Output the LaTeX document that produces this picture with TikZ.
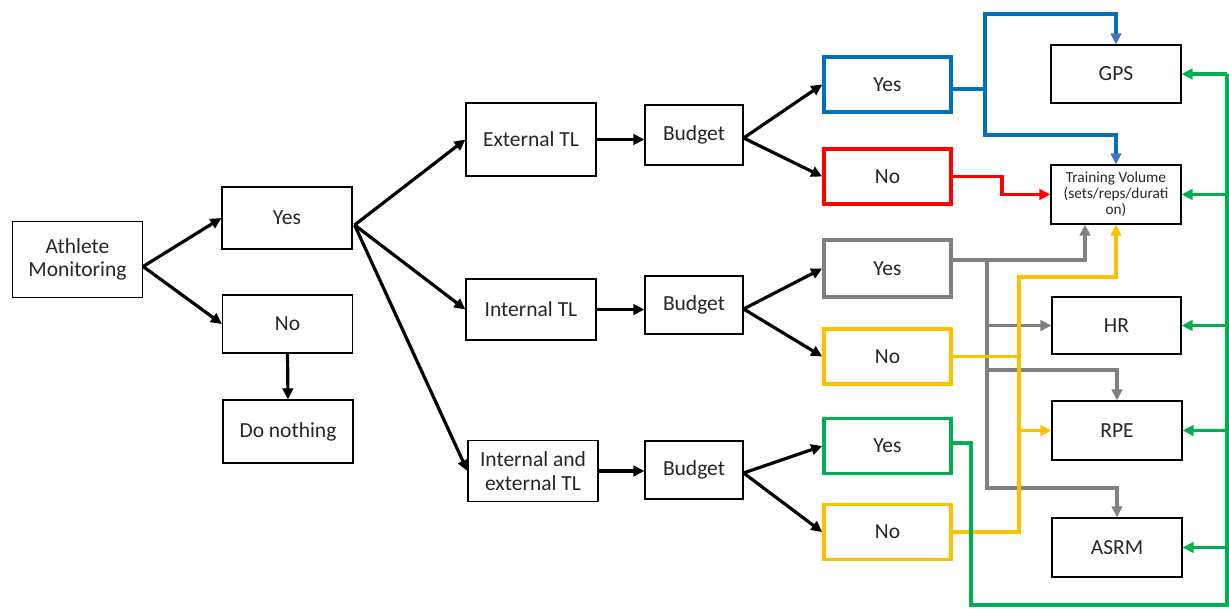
\documentclass[tikz,border=0pt]{standalone}
\usepackage{fontspec}
\setmainfont{Carlito}
\usetikzlibrary{arrows.meta,calc}
\definecolor{cblue}{HTML}{0070C0}
\definecolor{cbluetip}{HTML}{4472C4}
\definecolor{cred}{HTML}{FF0000}
\definecolor{cgray}{HTML}{808080}
\definecolor{cyel}{HTML}{FFC000}
\definecolor{cgreen}{HTML}{00B050}
\definecolor{ctext}{HTML}{262626}
\begin{document}
\begin{tikzpicture}[x=1pt,y=-1pt,
  box/.style={draw=black,line width=1.2pt,inner sep=2pt,align=center,
    text=ctext,font=\fontsize{21.5}{23.5}\selectfont},
  cbox/.style={box,line width=3.6pt,minimum width=127,minimum height=55},
  small/.style={font=\fontsize{15.3}{16}\selectfont},
  tip/.style={-{Triangle[length=11pt,width=10.5pt]}},
  arr/.style={line width=3.2pt,tip},
  cl/.style={line width=3.2pt},
  carr/.style={line width=3.2pt,tip}
]
\useasboundingbox (0,0) rectangle (1229,608);

% ---- nodes ----
\node[box,minimum width=130,minimum height=76] (am) at (77.5,259.5) {Athlete\\Monitoring};
\node[box,minimum width=130,minimum height=62] (yes1) at (287,218) {Yes};
\node[box,minimum width=130,minimum height=58] (no1) at (287.5,324) {No};
\node[box,minimum width=130,minimum height=63] (dn) at (288,431.5) {Do nothing};

\node[box,minimum width=130,minimum height=73] (ext) at (531,139.5) {External TL};
\node[box,minimum width=130,minimum height=61] (int) at (531,309.5) {Internal TL};
\node[box,minimum width=130,minimum height=61] (ie) at (533,471) {Internal and\\external TL};

\node[box,minimum width=98,minimum height=60] (b1) at (694,135) {Budget};
\node[box,minimum width=98,minimum height=58] (b2) at (694,305) {Budget};
\node[box,minimum width=98,minimum height=58] (b3) at (694,470) {Budget};

\node[cbox,draw=cblue] (yb) at (887.5,84.5) {Yes};
\node[cbox,draw=cred] (nr) at (887.5,176.5) {No};
\node[cbox,draw=cgray,minimum height=57] (yg) at (887.5,268.5) {Yes};
\node[cbox,draw=cyel] (ny) at (887.5,356.5) {No};
\node[cbox,draw=cgreen] (ygr) at (887.5,446) {Yes};
\node[cbox,draw=cyel] (ny2) at (887.5,532) {No};

\node[box,minimum width=130,minimum height=58] (gps) at (1116,74) {GPS};
\node[box,small,minimum width=130,minimum height=59] (tv) at (1116,194.5) {Training Volume\\(sets/reps/durati\\on)};
\node[box,minimum width=129,minimum height=57] (hr) at (1116.5,325.5) {HR};
\node[box,minimum width=130,minimum height=59] (rpe) at (1117,430.5) {RPE};
\node[box,minimum width=130,minimum height=59] (asrm) at (1117,547.5) {ASRM};

% ---- black arrows ----
\coordinate (as) at ($(am.east)+(0,7)$);
\draw[arr] (as) -- (yes1.west);
\draw[arr] (as) -- (no1.west);
\draw[arr] (no1.south) -- (dn.north);
\coordinate (ys) at ($(yes1.east)+(2,7)$);
\draw[arr] (ys) -- (ext.west);
\draw[arr] (ys) -- (int.west);
\draw[arr] (ys) -- (ie.west);
\draw[arr] (ext.east) -- (ext.east -| b1.west);
\draw[arr] (int.east) -- (int.east -| b2.west);
\draw[arr] (ie.east) -- (ie.east -| b3.west);
\coordinate (bs1) at ($(b1.east)+(0,3)$);
\draw[arr] (bs1) -- (yb.west);
\draw[arr] (bs1) -- (nr.west);
\coordinate (bs2) at ($(b2.east)+(0,4)$);
\draw[arr] (bs2) -- (yg.west);
\draw[arr] (bs2) -- (ny.west);
\coordinate (bs3) at ($(b3.east)+(0,3)$);
\draw[arr] (bs3) -- (ygr.west);
\draw[arr] (bs3) -- (ny2.west);

% ---- blue ----
\coordinate (bj) at (985,89);
\coordinate (bt) at (985,14);
\coordinate (bb) at (985,135);
\draw[cl,cblue] (yb.east |- bj) -- (bj);
\draw[cl,cblue,-{Triangle[length=11pt,width=10.5pt,color=cbluetip]}] (bj) -- (bt) -| (gps.north);
\draw[cl,cblue,-{Triangle[length=11pt,width=10.5pt,color=cbluetip]}] (bj) -- (bb) -| (tv.north);

% ---- red ----
\coordinate (rj) at (1002,185);
\draw[carr,cred] (nr.east) -| (rj) |- (tv.west);

% ---- gray ----
\coordinate (gv) at (987,260);
\coordinate (gvb) at (987,488);
\coordinate (gr) at (987,370);
\draw[carr,cgray] (yg.east |- gv) -| ($(tv.south)+(-31,0)$);
\draw[carr,cgray] (gv) -- (gvb) -| (asrm.north);
\draw[carr,cgray] (gv |- hr.west) -- (hr.west);
\draw[carr,cgray] (gr) -| (rpe.north);

% ---- yellow ----
\coordinate (yt) at (1019,277);
\draw[cl,cyel] (ny.east) -- (ny.east -| yt);
\draw[carr,cyel] (ny2.east) -- (ny2.east -| yt) -- (yt) -| (tv.south);
\draw[carr,cyel] (yt |- rpe.west) -- (rpe.west);

% ---- green ----
\coordinate (gc1) at (971,605);
\coordinate (gc2) at (1227,605);
\draw[cl,cgreen] ($(ygr.east)+(0,-3)$) -| (gc1) -- (gc2) -- (gc2 |- gps.east);
\draw[carr,cgreen] (gc2 |- gps.east) -- (gps.east);
\draw[carr,cgreen] (gc2 |- tv.east) -- (tv.east);
\draw[carr,cgreen] (gc2 |- hr.east) -- (hr.east);
\draw[carr,cgreen] (gc2 |- rpe.east) -- (rpe.east);
\draw[carr,cgreen] (gc2 |- asrm.east) -- (asrm.east);
\end{tikzpicture}
\end{document}
